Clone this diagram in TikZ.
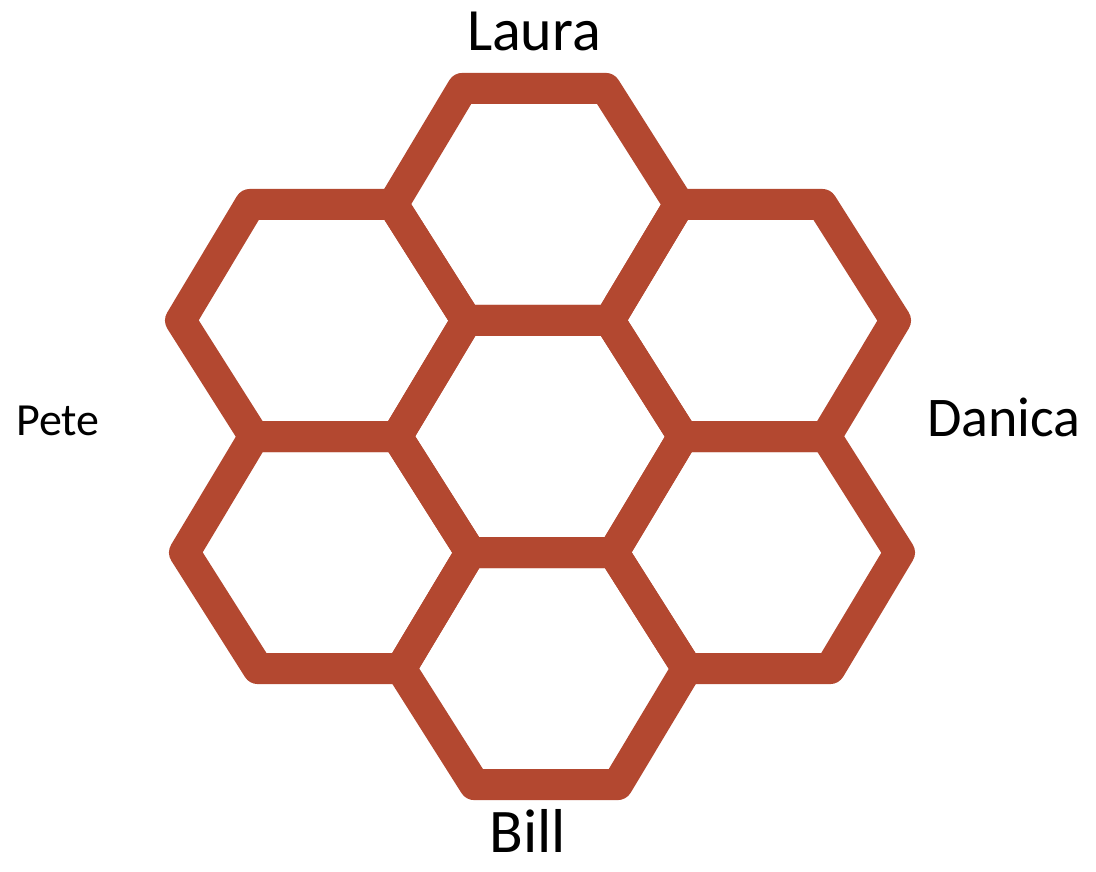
\documentclass[tikz,border=0pt]{standalone}
\usepackage{fontspec}
\setmainfont{Carlito}
\usepackage{xcolor}
\usepackage{tikz}
\usetikzlibrary{positioning}

\definecolor{hexred}{RGB}{179,72,48}

\begin{document}
\begin{tikzpicture}[
    hexcell/.style={draw=hexred, line width=31pt, line join=round},
    persontag/.style={anchor=base, inner sep=0pt, text=black}
]

\useasboundingbox (0,0) rectangle (1096pt,-871pt);

% honeycomb, centre cell at (540,437)
\begin{scope}[shift={(540pt,-436.5pt)}, x={(143pt,0pt)}, y={(-2.3pt,134pt)}]
\foreach \cx/\cy in {0/0, 0/1.732, 0/-1.732, 1.5/0.866, 1.5/-0.866, -1.5/0.866, -1.5/-0.866}
  \draw[hexcell] (\cx+1,\cy) -- (\cx+0.5,\cy+0.866) -- (\cx-0.5,\cy+0.866)
    -- (\cx-1,\cy) -- (\cx-0.5,\cy-0.866) -- (\cx+0.5,\cy-0.866) -- cycle;
\end{scope}

\node[persontag, font=\fontsize{60pt}{72pt}\selectfont] (laura) at (534pt,-50pt) {Laura};
\node[persontag, font=\fontsize{46pt}{55pt}\selectfont] (pete) at (58pt,-435pt) {Pete};
\node[persontag, font=\fontsize{56pt}{67pt}\selectfont] (danica) at (1004pt,-436pt) {Danica};
\node[persontag, font=\fontsize{62pt}{74pt}\selectfont] (bill) at (528pt,-852pt) {Bill};

\end{tikzpicture}
\end{document}
